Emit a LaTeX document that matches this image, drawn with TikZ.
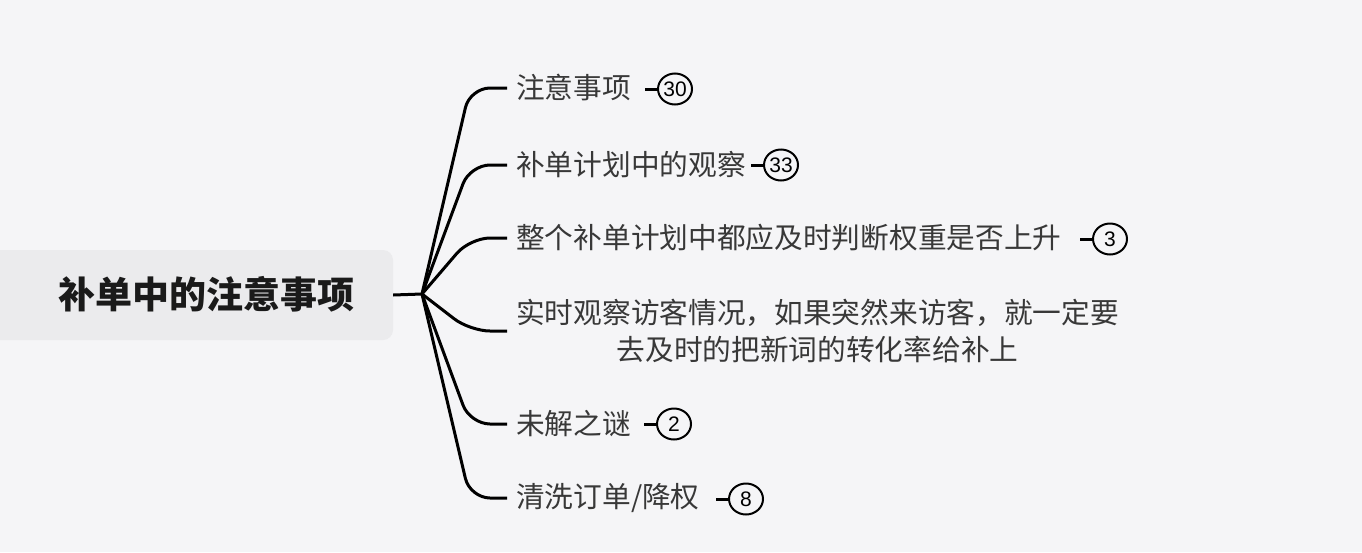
\documentclass[tikz,border=0pt]{standalone}
\usepackage{fontspec}
\setmainfont{Noto Sans CJK SC}
\newfontfamily\numfont{Liberation Sans}
\usetikzlibrary{shapes.geometric}
\definecolor{bg}{HTML}{F5F5F7}
\definecolor{rootfill}{HTML}{EBEBED}
\definecolor{txt}{HTML}{383838}
\definecolor{roottxt}{HTML}{1A1A1A}
\begin{document}
\begin{tikzpicture}[x=1pt,y=-1pt,
  branch/.style={line width=3pt, rounded corners=20pt},
  child/.style={anchor=west, inner sep=0pt, font=\fontsize{28.7}{37}\selectfont, text=txt},
  badge/.style={ellipse, draw, line width=2pt, minimum width=34pt, minimum height=31pt, inner sep=0pt, font=\numfont\fontsize{21}{21}\selectfont},
  stub/.style={line width=3pt},
  rootbox/.style={fill=rootfill, rounded corners=10pt, minimum width=405pt, minimum height=90pt, inner sep=0pt},
  roottext/.style={inner sep=0pt, font=\bfseries\fontsize{37}{40}\selectfont, text=roottxt}]
\fill[bg] (0,0) rectangle (1362,552);
\useasboundingbox (0,0) rectangle (1362,552);
\node[rootbox] (root) at (190.5,295) {};
\node[roottext] (rootlabel) at (206,294) {补单中的注意事项};
\coordinate (J) at (422,294);
\draw[stub] (root.east) -- (J);
% children
\node[child] (c1) at (516,88) {注意事项};
\node[child] (c2) at (516,165) {补单计划中的观察};
\node[child] (c3) at (516,238) {整个补单计划中都应及时判断权重是否上升};
\node[child, align=center] (c4) at (516,331) {实时观察访客情况，如果突然来访客，就一定要\\去及时的把新词的转化率给补上};
\node[child] (c5) at (516,424) {未解之谜};
\node[child] (c6) at (516,498) {清洗订单/降权};
\foreach \c/\y in {c1/88,c2/165,c3/238,c4/331,c5/424,c6/498}
  \draw[branch] (J) -- (470,\y) -- ([xshift=-9pt]\c.west);
% badges
\node[badge] (b1) at (675,89) {30};
\node[badge] (b2) at (781,165) {33};
\node[badge] (b3) at (1110,239) {3};
\node[badge] (b5) at (674,424) {2};
\node[badge] (b6) at (746,499) {8};
\foreach \b in {b1,b2,b3,b5,b6}
  \draw[stub] (\b.west) -- ++(-12,0);
\end{tikzpicture}
\end{document}
